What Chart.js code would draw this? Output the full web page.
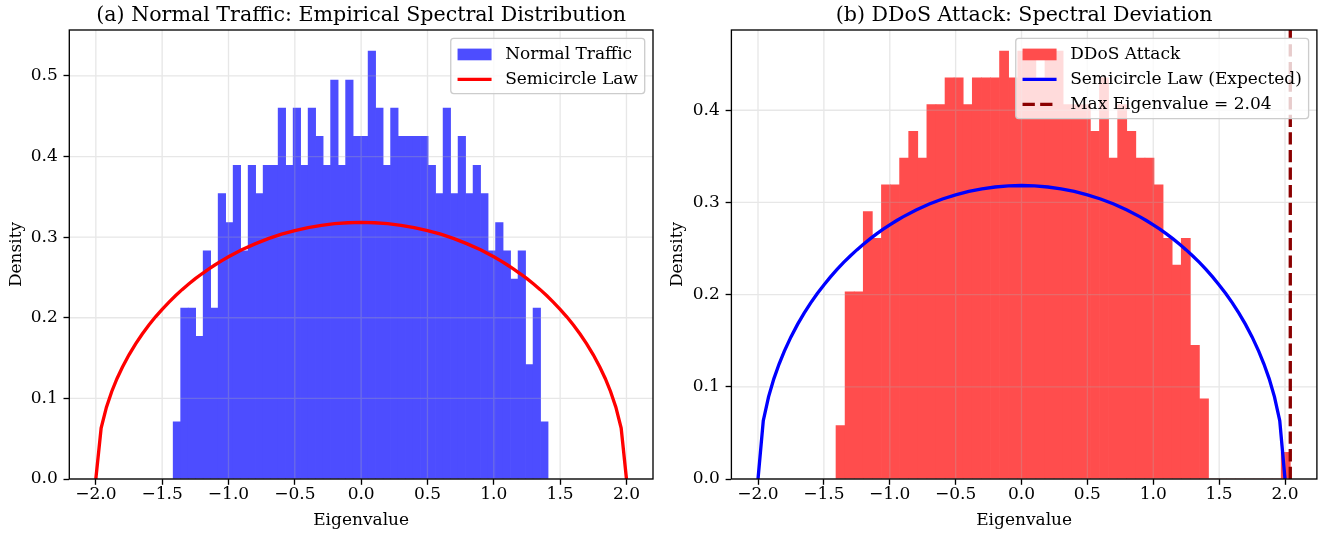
<!DOCTYPE html>
<html>
<head>
<meta charset="utf-8">
<script src="https://cdn.jsdelivr.net/npm/chart.js@4.4.1/dist/chart.umd.min.js"></script>
<style>
  body { margin: 0; background: #fff; width: 1322px; height: 535px; overflow: hidden; }
  canvas { position: absolute; top: 0; }
  #normal { left: 0; }
  #attack { left: 661px; }
</style>
</head>
<body>
<canvas id="normal" width="661" height="535"></canvas>
<canvas id="attack" width="661" height="535"></canvas>
<script>
// tick labels
const xTicks = [-2, -1.5, -1, -0.5, 0, 0.5, 1, 1.5, 2];
const normalTicksY = [0, 0.1, 0.2, 0.3, 0.4, 0.5];
const attackTicksY = [0, 0.1, 0.2, 0.3, 0.4];

// histogram of normal traffic eigenvalues (50 bins between min and max)
const normalRange = [-1.417, 1.409];
const normalDensity = [
  0.071, 0.212, 0.212, 0.177, 0.283, 0.212, 0.354, 0.318, 0.389, 0.283,
  0.389, 0.354, 0.389, 0.389, 0.460, 0.389, 0.460, 0.389, 0.460, 0.425,
  0.389, 0.495, 0.389, 0.495, 0.425, 0.425, 0.531, 0.460, 0.389, 0.460,
  0.425, 0.425, 0.425, 0.425, 0.389, 0.354, 0.460, 0.354, 0.425, 0.354,
  0.389, 0.354, 0.283, 0.318, 0.283, 0.248, 0.283, 0.142, 0.212, 0.071
];

// histogram under DDoS attack (50 bins, one outlier at the top)
const attackRange = [-1.408, 2.04];
const attackDensity = [
  0.058, 0.203, 0.203, 0.290, 0.261, 0.319, 0.319, 0.348, 0.377, 0.348,
  0.406, 0.406, 0.435, 0.435, 0.406, 0.435, 0.435, 0.435, 0.464, 0.435,
  0.464, 0.464, 0.435, 0.464, 0.464, 0.406, 0.406, 0.406, 0.377, 0.435,
  0.348, 0.406, 0.377, 0.348, 0.348, 0.319, 0.261, 0.232, 0.261, 0.145,
  0.087, 0, 0, 0, 0, 0, 0, 0, 0, 0.029
];
const maxEigenvalue = 2.04;

// semicircle law curve
const semiX = [-2, -1.96, -1.92, -1.88, -1.84, -1.8, -1.75, -1.7, -1.65, -1.6, -1.55, -1.5, -1.45, -1.4,
  -1.35, -1.3, -1.25, -1.2, -1.15, -1.1, -1.05, -1.0, -0.95, -0.9, -0.8, -0.7, -0.6, -0.5, -0.4, -0.3,
  -0.2, -0.1, 0, 0.1, 0.2, 0.3, 0.4, 0.5, 0.6, 0.7, 0.8, 0.9, 0.95, 1.0, 1.05, 1.1, 1.15, 1.2, 1.25,
  1.3, 1.35, 1.4, 1.45, 1.5, 1.55, 1.6, 1.65, 1.7, 1.75, 1.8, 1.84, 1.88, 1.92, 1.96, 2];
const semiY = [0, 0.0633, 0.0891, 0.1086, 0.1247, 0.1387, 0.1541, 0.1677, 0.1799, 0.1910, 0.2012, 0.2105, 0.2192, 0.2273,
  0.2349, 0.2419, 0.2485, 0.2546, 0.2604, 0.2658, 0.2709, 0.2757, 0.2801, 0.2843, 0.2917, 0.2982, 0.3037, 0.3082, 0.3119, 0.3147,
  0.3167, 0.3179, 0.3183, 0.3179, 0.3167, 0.3147, 0.3119, 0.3082, 0.3037, 0.2982, 0.2917, 0.2843, 0.2801, 0.2757, 0.2709, 0.2658, 0.2604, 0.2546, 0.2485,
  0.2419, 0.2349, 0.2273, 0.2192, 0.2105, 0.2012, 0.1910, 0.1799, 0.1677, 0.1541, 0.1387, 0.1247, 0.1086, 0.0891, 0.0633, 0];

const FONT = '"DejaVu Serif", serif';
const FS = 17;

function binPoints(range, dens) {
  const w = (range[1] - range[0]) / dens.length;
  return dens.map((d, i) => ({ x: range[0] + (i + 0.5) * w, y: d }));
}

function curvePoints(xs, ys) {
  return xs.map((x, i) => ({ x: x, y: ys[i] }));
}

function fmt(v) {
  return v.toFixed(1).replace('-', '\u2212');
}

// grid over the bars, frame and a matplotlib-like legend box
function panelPlugin(items) {
  return {
    id: 'panel',
    afterDatasetDraw(chart, args) {
      if (args.meta.type !== 'bar') return;
      const { ctx, chartArea: a, scales } = chart;
      ctx.save();
      ctx.strokeStyle = 'rgba(176,176,176,0.3)';
      ctx.lineWidth = 1.33;
      ctx.beginPath();
      scales.x.ticks.forEach(t => {
        const px = scales.x.getPixelForValue(t.value);
        ctx.moveTo(px, a.top); ctx.lineTo(px, a.bottom);
      });
      scales.y.ticks.forEach(t => {
        const py = scales.y.getPixelForValue(t.value);
        ctx.moveTo(a.left, py); ctx.lineTo(a.right, py);
      });
      ctx.stroke();
      ctx.restore();
    },
    afterDatasetsDraw(chart) {
      const { ctx, chartArea: a } = chart;
      ctx.save();
      ctx.strokeStyle = '#000';
      ctx.lineWidth = 1.33;
      ctx.strokeRect(a.left, a.top, a.right - a.left, a.bottom - a.top);

      ctx.font = FS + 'px ' + FONT;
      const textW = Math.max(...items.map(it => ctx.measureText(it.label).width));
      const pad = 6.8, handleLen = 34, handlePad = 13.6, rowH = 25;
      const boxW = pad + handleLen + handlePad + textW + pad;
      const boxH = 2 * pad + items.length * 16.7 + (items.length - 1) * 8.3;
      const bx = a.right - 8.3 - boxW, by = a.top + 8.3;
      ctx.beginPath();
      ctx.roundRect(bx, by, boxW, boxH, 3);
      ctx.fillStyle = 'rgba(255,255,255,0.8)';
      ctx.fill();
      ctx.strokeStyle = '#cccccc';
      ctx.lineWidth = 1.33;
      ctx.stroke();

      items.forEach((it, i) => {
        const cy = by + pad + 16.7 / 2 + 1 + i * rowH;
        const hx = bx + pad;
        if (it.kind === 'patch') {
          ctx.fillStyle = it.color;
          ctx.fillRect(hx, cy - 5.85, handleLen, 11.7);
        } else {
          ctx.strokeStyle = it.color;
          ctx.lineWidth = 3.33;
          ctx.setLineDash(it.kind === 'dash' ? [12.3, 5.3] : []);
          ctx.beginPath();
          ctx.moveTo(hx, cy); ctx.lineTo(hx + handleLen, cy);
          ctx.stroke();
          ctx.setLineDash([]);
        }
        ctx.fillStyle = '#000';
        ctx.textBaseline = 'middle';
        ctx.textAlign = 'left';
        ctx.fillText(it.label, hx + handleLen + handlePad, cy);
      });
      ctx.restore();
    }
  };
}

function makeChart(id, o) {
  return new Chart(document.getElementById(id), {
    type: 'bar',
    data: { datasets: o.datasets },
    options: {
      responsive: false,
      animation: false,
      devicePixelRatio: 1,
      layout: { padding: { left: 0, right: o.padRight, top: 0, bottom: 0 } },
      plugins: {
        legend: { display: false },
        tooltip: { enabled: false },
        title: {
          display: true, text: o.title, fullSize: false, color: '#000',
          font: { family: FONT, size: 20.6, weight: 'normal', lineHeight: 1.165 },
          padding: { top: 4, bottom: 2 }
        }
      },
      scales: {
        x: {
          type: 'linear', min: o.xMin, max: o.xMax, offset: false,
          grid: { offset: false, drawOnChartArea: false, tickLength: 5.8, tickColor: '#000', tickWidth: 1.33 },
          border: { display: false },
          ticks: { color: '#000', font: { family: FONT, size: FS }, padding: 0, autoSkip: false, maxRotation: 0, callback: v => fmt(v) },
          title: { display: true, text: 'Eigenvalue', color: '#000', font: { family: FONT, size: FS }, padding: { top: 0, bottom: 4 } },
          afterBuildTicks: s => { s.ticks = xTicks.map(v => ({ value: v })); },
          afterFit: s => { s.height = 56; }
        },
        y: {
          min: 0, max: o.yMax,
          grid: { drawOnChartArea: false, tickLength: 5.8, tickColor: '#000', tickWidth: 1.33 },
          border: { display: false },
          ticks: { color: '#000', font: { family: FONT, size: FS }, padding: 5.8, callback: v => fmt(v) },
          title: { display: true, text: 'Density', color: '#000', font: { family: FONT, size: FS }, padding: { top: 6, bottom: 0 } },
          afterBuildTicks: s => { s.ticks = o.yTicks.map(v => ({ value: v })); },
          afterFit: s => { s.width = o.yWidth; }
        }
      }
    },
    plugins: [panelPlugin(o.legend)]
  });
}

makeChart('normal', {
  title: '(a) Normal Traffic: Empirical Spectral Distribution',
  xMin: -2.2, xMax: 2.2, yMax: 0.557, yTicks: normalTicksY,
  yWidth: 69.3, padRight: 8,
  datasets: [
    { type: 'bar', label: 'Normal Traffic', data: binPoints(normalRange, normalDensity),
      backgroundColor: '#4d4dff', borderWidth: 0, barPercentage: 1, categoryPercentage: 1, order: 2 },
    { type: 'line', label: 'Semicircle Law', data: curvePoints(semiX, semiY),
      borderColor: '#ff0000', borderWidth: 3.33, pointRadius: 0, fill: false, tension: 0, order: 1 }
  ],
  legend: [
    { label: 'Normal Traffic', kind: 'patch', color: '#4d4dff' },
    { label: 'Semicircle Law', kind: 'line', color: '#ff0000' }
  ]
});

makeChart('attack', {
  title: '(b) DDoS Attack: Spectral Deviation',
  xMin: -2.202, xMax: 2.242, yMax: 0.487, yTicks: attackTicksY,
  yWidth: 70.4, padRight: 5.1,
  datasets: [
    { type: 'bar', label: 'DDoS Attack', data: binPoints(attackRange, attackDensity),
      backgroundColor: '#ff4d4d', borderWidth: 0, barPercentage: 1, categoryPercentage: 1, order: 2 },
    { type: 'line', label: 'Semicircle Law (Expected)', data: curvePoints(semiX, semiY),
      borderColor: '#0000ff', borderWidth: 3.33, pointRadius: 0, fill: false, tension: 0, order: 1 },
    { type: 'line', label: 'Max Eigenvalue = 2.04', data: [{ x: maxEigenvalue, y: 0 }, { x: maxEigenvalue, y: 0.487 }],
      borderColor: '#8b0000', borderWidth: 3.33, borderDash: [12.3, 5.3], pointRadius: 0, fill: false, order: 0 }
  ],
  legend: [
    { label: 'DDoS Attack', kind: 'patch', color: '#ff4d4d' },
    { label: 'Semicircle Law (Expected)', kind: 'line', color: '#0000ff' },
    { label: 'Max Eigenvalue = 2.04', kind: 'dash', color: '#8b0000' }
  ]
});
</script>
</body>
</html>
